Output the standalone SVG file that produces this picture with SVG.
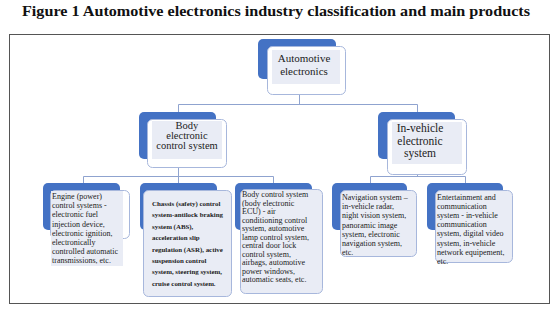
<svg xmlns="http://www.w3.org/2000/svg" width="556" height="311" viewBox="0 0 556 311">
<style>
.title{font-family:"Liberation Serif","Times New Roman",serif;font-weight:bold;font-size:15.5px;fill:#111}
.back{fill:#4472c4}
.front{fill:#ffffff;stroke:#a7b7dc;stroke-width:1}
.inner{fill:#e9ecf5}
.t{font-family:"Liberation Serif","Times New Roman",serif;fill:#222}
.h{font-size:10.5px;text-anchor:middle}
.s{font-size:8px}
.b{font-size:6.9px;font-weight:bold}
.conn{fill:none;stroke:#8fa3cf;stroke-width:1}
</style>
<rect x="0" y="0" width="556" height="311" fill="#ffffff"/>
<text class="title" x="276" y="16" text-anchor="middle" textLength="508" lengthAdjust="spacingAndGlyphs">Figure 1 Automotive electronics industry classification and main products</text>
<rect x="9.5" y="34.5" width="540" height="269" fill="none" stroke="#555" stroke-width="1"/>
<g id="connectors">
<path class="conn" d="M299.5 95 V104.5 M178.5 112 V104.5 H417.5 V112"/>
<path class="conn" d="M178.5 168 V176.5 M83.5 183 V176.5 H273.5 V183 M178.5 176.5 V183"/>
<path class="conn" d="M417.5 175 V176.5 M370.5 183 V176.5 H465.5 V183"/>
</g>
<g id="root">
<rect class="back" x="258" y="39" width="78" height="40" rx="5"/>
<rect class="front" x="267.5" y="46.5" width="78" height="48" rx="5"/>
<rect class="inner" x="272" y="50" width="68" height="34"/>
<text class="t h" x="304" y="62" style="font-size:11px">Automotive</text>
<text class="t h" x="304" y="75" style="font-size:11px">electronics</text>
</g>
<g id="body-electronic">
<rect class="back" x="139" y="112" width="77" height="47" rx="5"/>
<rect class="front" x="147.5" y="119.5" width="79" height="48" rx="5"/>
<rect class="inner" x="152" y="121" width="70" height="38"/>
<text class="t h" x="187" y="129">Body</text>
<text class="t h" x="187" y="139">electronic</text>
<text class="t h" x="187" y="149">control system</text>
</g>
<g id="in-vehicle">
<rect class="back" x="378" y="112" width="77" height="47" rx="5"/>
<rect class="front" x="387.5" y="119.5" width="79" height="55" rx="5"/>
<rect class="inner" x="392" y="122" width="70" height="42"/>
<text class="t h" x="420" y="132" style="font-size:11.5px">In-vehicle</text>
<text class="t h" x="420" y="144.5" style="font-size:11.5px">electronic</text>
<text class="t h" x="420" y="157" style="font-size:11.5px">system</text>
</g>
<g id="engine">
<rect class="back" x="43" y="183" width="77" height="47" rx="5"/>
<rect class="front" x="50.5" y="190.5" width="79" height="48" rx="5"/>
<rect class="inner" x="51" y="191" width="72" height="75"/>
<text class="t s"><tspan x="52" y="199">Engine (power)</tspan><tspan x="52" y="208.2">control systems -</tspan><tspan x="52" y="217.4">electronic fuel</tspan><tspan x="52" y="226.6">injection device,</tspan><tspan x="52" y="235.8">electronic ignition,</tspan><tspan x="52" y="245">electronically</tspan><tspan x="52" y="254.2">controlled automatic</tspan><tspan x="52" y="263.4">transmissions, etc.</tspan></text>
</g>
<g id="chassis">
<rect class="back" x="140" y="183" width="77" height="47" rx="5"/>
<rect class="front" x="143.5" y="190.5" width="88" height="106" rx="5" style="fill:#e9ecf5"/>
<text class="t b"><tspan x="152" y="206">Chassis (safety) control</tspan><tspan x="152" y="217.4">system-antilock braking</tspan><tspan x="152" y="228.8">system (ABS),</tspan><tspan x="152" y="240.2">acceleration slip</tspan><tspan x="152" y="251.6">regulation (ASR), active</tspan><tspan x="152" y="263">suspension control</tspan><tspan x="152" y="274.4">system, steering system,</tspan><tspan x="152" y="285.8">cruise control system.</tspan></text>
</g>
<g id="body-control">
<rect class="back" x="235" y="183" width="77" height="47" rx="5"/>
<rect class="front" x="240.5" y="189.5" width="82" height="104" rx="5" style="fill:#e9ecf5"/>
<text class="t s"><tspan x="242" y="197">Body control system</tspan><tspan x="242" y="205.5">(body electronic</tspan><tspan x="242" y="214">ECU) - air</tspan><tspan x="242" y="222.5">conditioning control</tspan><tspan x="242" y="231">system, automotive</tspan><tspan x="242" y="239.5">lamp control system,</tspan><tspan x="242" y="248">central door lock</tspan><tspan x="242" y="256.5">control system,</tspan><tspan x="242" y="265">airbags, automotive</tspan><tspan x="242" y="273.5">power windows,</tspan><tspan x="242" y="282">automatic seats, etc.</tspan></text>
</g>
<g id="navigation">
<rect class="back" x="332" y="183" width="75" height="47" rx="5"/>
<rect class="front" x="340.5" y="190.5" width="76" height="66" rx="5" style="fill:#e9ecf5"/>
<text class="t s"><tspan x="342" y="200">Navigation system –</tspan><tspan x="342" y="209.2">in-vehicle radar,</tspan><tspan x="342" y="218.4">night vision system,</tspan><tspan x="342" y="227.6">panoramic image</tspan><tspan x="342" y="236.8">system, electronic</tspan><tspan x="342" y="246">navigation system,</tspan><tspan x="342" y="255.2">etc.</tspan></text>
</g>
<g id="entertainment">
<rect class="back" x="427" y="183" width="76" height="47" rx="5"/>
<rect class="front" x="435.5" y="190.5" width="77" height="72" rx="5" style="fill:#e9ecf5"/>
<text class="t s"><tspan x="437" y="200">Entertainment and</tspan><tspan x="437" y="209.1">communication</tspan><tspan x="437" y="218.2">system - in-vehicle</tspan><tspan x="437" y="227.3">communication</tspan><tspan x="437" y="236.4">system, digital video</tspan><tspan x="437" y="245.5">system, in-vehicle</tspan><tspan x="437" y="254.6">network equipement,</tspan><tspan x="437" y="263.7">etc.</tspan></text>
</g>
</svg>
